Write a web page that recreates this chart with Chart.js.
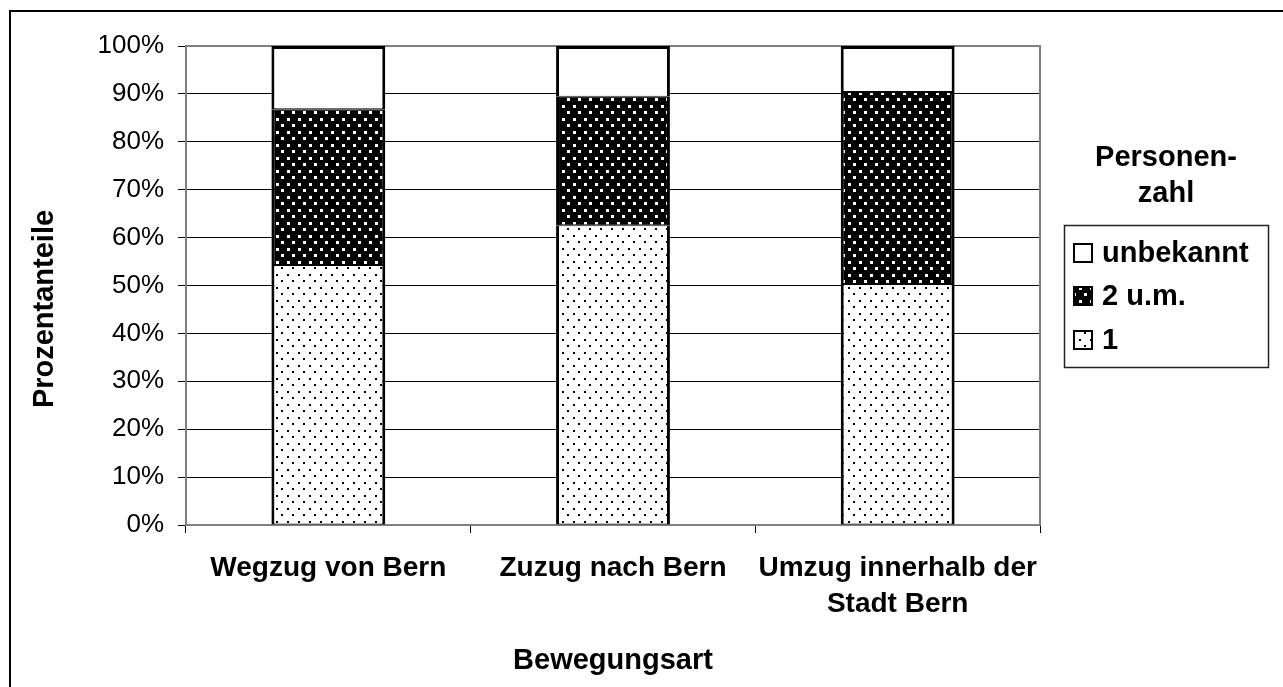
<!DOCTYPE html>
<html>
<head>
<meta charset="utf-8">
<script src="https://cdn.jsdelivr.net/npm/chart.js@4.4.0/dist/chart.umd.min.js"></script>
<style>
  body { margin: 0; background: #fff; }
  #wrap { width: 1283px; height: 687px; position: relative; }
</style>
</head>
<body>
<div id="wrap"><canvas id="chart" width="1283" height="687"></canvas></div>
<script>
const categories = [['Wegzug von Bern'], ['Zuzug nach Bern'], ['Umzug innerhalb der', 'Stadt Bern']];
const seriesNames = ['1', '2 u.m.', 'unbekannt'];
const valuesOne = [54.3, 62.6, 50.3];
const valuesTwoPlus = [32.5, 26.8, 40.1];
const valuesUnknown = [13.2, 10.6, 9.6];
const yTicks = [0, 10, 20, 30, 40, 50, 60, 70, 80, 90, 100];

const FONT = 'Liberation Sans, Arial, sans-serif';

function makeDots(bg, dot, size) {
    const c = document.createElement('canvas');
    c.width = 11;
    c.height = 13;
    const g = c.getContext('2d');
    g.fillStyle = bg;
    g.fillRect(0, 0, 11, 13);
    g.fillStyle = dot;
    g.fillRect(1, 1, size, size);
    g.fillRect(6, 7, size, size);
    return g.createPattern(c, 'repeat');
}

const ctx = document.getElementById('chart').getContext('2d');
const dotsLight = makeDots('#fff', '#000', 2);
const dotsDark = makeDots('#000', '#fff', 3);

// plot area frame, y title, legend and outer frame
const decor = {
    id: 'decor',
    beforeDraw(chart) {
        const c = chart.ctx;
        c.save();
        c.fillStyle = '#fff';
        c.fillRect(0, 0, chart.width, chart.height);
        c.restore();
    },
    beforeDatasetsDraw(chart) {
        const a = chart.chartArea;
        const c = chart.ctx;
        c.save();
        c.strokeStyle = '#808080';
        c.lineWidth = 2;
        c.strokeRect(a.left, a.top, a.right - a.left, a.bottom - a.top);
        c.restore();
    },
    afterDraw(chart) {
        const c = chart.ctx;
        c.save();
        // outer frame
        c.strokeStyle = '#000';
        c.lineWidth = 2;
        c.strokeRect(10, 11, 1400, 800);

        // y axis title
        c.fillStyle = '#000';
        c.font = 'bold 29px ' + FONT;
        c.textAlign = 'center';
        c.textBaseline = 'middle';
        c.translate(45, 309);
        c.rotate(-Math.PI / 2);
        c.fillText('Prozentanteile', 0, 0);
        c.restore();

        // legend
        c.save();
        c.fillStyle = '#000';
        c.font = 'bold 29px ' + FONT;
        c.textAlign = 'center';
        c.textBaseline = 'middle';
        c.fillText('Personen-', 1166, 158);
        c.fillText('zahl', 1166, 194);

        c.strokeStyle = '#222';
        c.lineWidth = 1.5;
        c.strokeRect(1064.5, 225.5, 204, 142);

        const items = chart.data.datasets.slice().reverse();
        const rows = [253, 296, 340];
        c.textAlign = 'left';
        items.forEach((ds, i) => {
            const y = rows[i];
            c.fillStyle = ds.backgroundColor;
            c.fillRect(1074, y - 9, 18, 18);
            c.strokeStyle = '#000';
            c.lineWidth = 2;
            c.strokeRect(1074, y - 9, 18, 18);
            c.fillStyle = '#000';
            c.fillText(ds.label, 1102, y + 1);
        });
        c.restore();
    }
};

const inner = { top: 1, bottom: 1, left: 3, right: 3 };

new Chart(ctx, {
    type: 'bar',
    data: {
        labels: categories,
        datasets: [
            {
                label: seriesNames[0],
                data: valuesOne,
                backgroundColor: dotsLight,
                borderColor: '#000',
                borderWidth: inner,
                borderSkipped: false
            },
            {
                label: seriesNames[1],
                data: valuesTwoPlus,
                backgroundColor: dotsDark,
                borderColor: '#000',
                borderWidth: inner,
                borderSkipped: false
            },
            {
                label: seriesNames[2],
                data: valuesUnknown,
                backgroundColor: '#fff',
                borderColor: '#000',
                borderWidth: { top: 3, bottom: 1, left: 3, right: 3 },
                borderSkipped: false
            }
        ]
    },
    options: {
        responsive: false,
        animation: false,
        layout: { padding: { top: 46, right: 243, left: 0, bottom: 0 } },
        plugins: {
            legend: { display: false },
            tooltip: { enabled: false }
        },
        datasets: {
            bar: { categoryPercentage: 1, barPercentage: 0.4 }
        },
        scales: {
            x: {
                stacked: true,
                afterFit: s => { s.height = 162; },
                grid: {
                    display: true,
                    drawOnChartArea: false,
                    drawTicks: true,
                    tickLength: 8,
                    offset: true,
                    color: '#000'
                },
                border: { display: true, color: '#333', width: 1 },
                ticks: {
                    color: '#000',
                    padding: 17,
                    maxRotation: 0,
                    font: { family: FONT, size: 28, weight: 'bold', lineHeight: 1.29 }
                },
                title: {
                    display: true,
                    text: 'Bewegungsart',
                    color: '#000',
                    padding: { top: 0, bottom: 9 },
                    font: { family: FONT, size: 29, weight: 'bold', lineHeight: 1.2 }
                }
            },
            y: {
                stacked: true,
                min: 0,
                max: 100,
                afterFit: s => { s.width = 186; },
                afterBuildTicks: s => { s.ticks = yTicks.map(v => ({ value: v })); },
                grid: {
                    color: '#000',
                    lineWidth: 1,
                    drawTicks: true,
                    tickLength: 8
                },
                border: { display: true, color: '#808080', width: 2 },
                ticks: {
                    color: '#000',
                    padding: 14,
                    font: { family: FONT, size: 26 },
                    callback: v => v + '%'
                }
            }
        }
    },
    plugins: [decor]
});
</script>
</body>
</html>
